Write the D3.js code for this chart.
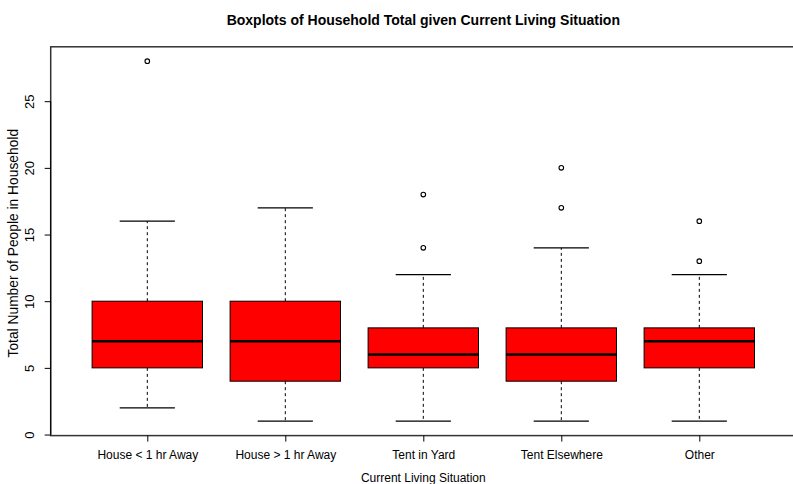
<!DOCTYPE html>
<html><head><meta charset="utf-8">
<script src="https://cdn.jsdelivr.net/npm/d3@7"></script>
<style>html,body{margin:0;padding:0;background:#fff;overflow:hidden}</style>
</head><body>
<svg id="chart" width="793" height="484"></svg>
<script>
const categories = ["House < 1 hr Away", "House > 1 hr Away", "Tent in Yard", "Tent Elsewhere", "Other"];
const lowerWhisker = [2, 1, 1, 1, 1];
const q1 = [5, 4, 5, 4, 5];
const median = [7, 7, 6, 6, 7];
const q3 = [10, 10, 8, 8, 8];
const upperWhisker = [16, 17, 12, 14, 12];
const outliers = [[28], [], [14, 18], [17, 20], [13, 16]];
const yTicks = [0, 5, 10, 15, 20, 25];

const svg = d3.select("#chart");
const font = "Liberation Sans, Arial, Helvetica, sans-serif";

// R-style ranges: x from 0.3 to 5.7, y from -0.08 to 29.08
const x = d3.scaleLinear().domain([0.3, 5.7]).range([50.7, 795.9]);
const y = d3.scaleLinear().domain([-0.08, 29.08]).range([435.6, 46.8]);
const bw = (x(1.4) - x(0.6));
const cw = bw / 2;

const data = categories.map((c, i) => ({
  c, i: i + 1, lo: lowerWhisker[i], q1: q1[i], med: median[i], q3: q3[i], hi: upperWhisker[i], out: outliers[i]
}));

const g = svg.append("g");
data.forEach(d => {
  const cx = x(d.i);
  g.append("line").attr("x1", cx).attr("x2", cx).attr("y1", y(d.q3)).attr("y2", y(d.hi))
    .attr("stroke", "#000").attr("stroke-dasharray", "3,3");
  g.append("line").attr("x1", cx).attr("x2", cx).attr("y1", y(d.q1)).attr("y2", y(d.lo))
    .attr("stroke", "#000").attr("stroke-dasharray", "3,3");
  [d.lo, d.hi].forEach(v => g.append("line").attr("x1", cx - cw / 2).attr("x2", cx + cw / 2)
    .attr("y1", y(v)).attr("y2", y(v)).attr("stroke", "#000").attr("stroke-width", 1.2));
  g.append("rect").attr("x", cx - bw / 2).attr("width", bw).attr("y", y(d.q3)).attr("height", y(d.q1) - y(d.q3))
    .attr("fill", "#ff0000").attr("stroke", "#000").attr("stroke-width", 1);
  g.append("line").attr("x1", cx - bw / 2).attr("x2", cx + bw / 2).attr("y1", y(d.med)).attr("y2", y(d.med))
    .attr("stroke", "#000").attr("stroke-width", 2.5);
  d.out.forEach(v => g.append("circle").attr("cx", cx).attr("cy", y(v)).attr("r", 2.3)
    .attr("fill", "none").attr("stroke", "#000").attr("stroke-width", 1.1));
});

svg.append("rect").attr("x", x(0.3)).attr("y", y(29.08)).attr("width", x(5.7) - x(0.3)).attr("height", y(-0.08) - y(29.08))
  .attr("fill", "none").attr("stroke", "#333").attr("stroke-width", 1.5);

const yAxis = d3.axisLeft(y).tickValues(yTicks).tickSize(6).tickPadding(8).tickSizeOuter(0);
const ya = svg.append("g").attr("transform", `translate(${x(0.3)},0)`).call(yAxis);
ya.select(".domain").attr("d", `M0,${y(0)}V${y(25)}`).attr("stroke", "#000");
ya.selectAll(".tick line").attr("stroke", "#000");
ya.selectAll(".tick text").attr("font-family", font).attr("font-size", 13).attr("fill", "#000")
  .attr("text-anchor", "middle").attr("dy", null)
  .attr("transform", "rotate(-90)").attr("x", 0).attr("y", -17);

const xAxis = d3.axisBottom(x).tickValues([1, 2, 3, 4, 5]).tickFormat(v => categories[v - 1]).tickSize(6).tickPadding(9).tickSizeOuter(0);
const xa = svg.append("g").attr("transform", `translate(0,${y(-0.08)})`).call(xAxis);
xa.select(".domain").remove();
xa.selectAll(".tick line").attr("stroke", "#000");
xa.selectAll(".tick text").attr("font-family", font).attr("font-size", 12).attr("fill", "#000");

svg.append("text").attr("x", (x(0.3) + x(5.7)) / 2).attr("y", 25).attr("text-anchor", "middle")
  .attr("font-family", font).attr("font-weight", "bold").attr("font-size", 14).attr("fill", "#000")
  .text("Boxplots of Household Total given Current Living Situation");
svg.append("text").attr("x", (x(0.3) + x(5.7)) / 2).attr("y", 482).attr("text-anchor", "middle")
  .attr("font-family", font).attr("font-size", 12).attr("fill", "#000")
  .text("Current Living Situation");
svg.append("text").attr("transform", `translate(18,${(y(-0.08) + y(29.08)) / 2 + 2}) rotate(-90)`).attr("text-anchor", "middle")
  .attr("font-family", font).attr("font-size", 13.8).attr("fill", "#000")
  .text("Total Number of People in Household");
</script>
</body></html>
